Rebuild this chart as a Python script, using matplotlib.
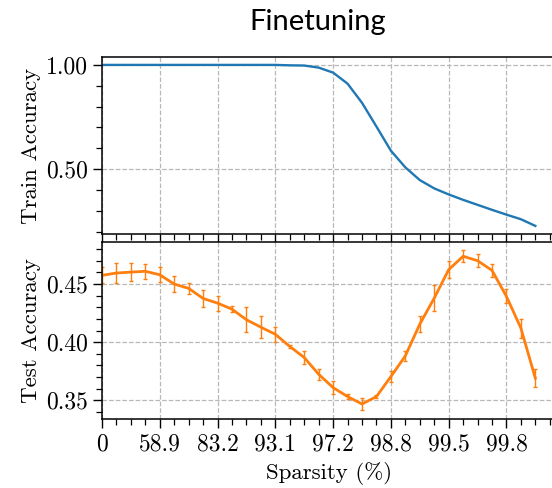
import numpy as np
import matplotlib.pyplot as plt
from matplotlib.ticker import MultipleLocator, FixedLocator, FixedFormatter, FormatStrFormatter

plt.rcParams['font.family'] = ['cmr10', 'DejaVu Serif']
plt.rcParams['axes.formatter.use_mathtext'] = True
plt.rcParams['mathtext.fontset'] = 'cm'

# pruning rounds (x index) and tick labels
sparsity_labels = ['0', '58.9', '83.2', '93.1', '97.2', '98.8', '99.5', '99.8']
rounds = np.arange(31)

train_acc = [1.0, 1.0, 1.0, 1.0, 1.0, 1.0, 1.0, 1.0, 1.0, 1.0, 1.0, 1.0, 1.0,
             0.998, 0.997, 0.987, 0.963, 0.91, 0.818, 0.704, 0.588, 0.508,
             0.447, 0.407, 0.378, 0.352, 0.328, 0.304, 0.281, 0.259, 0.227]

test_acc = [0.4575, 0.4595, 0.4603, 0.461, 0.458, 0.450, 0.4463, 0.4376,
            0.4336, 0.4284, 0.4193, 0.4129, 0.4068, 0.3963, 0.3868, 0.3724,
            0.3609, 0.3532, 0.3468, 0.3532, 0.3704, 0.3882, 0.4155, 0.4379,
            0.4624, 0.4739, 0.4701, 0.4618, 0.4394, 0.4121, 0.369]
test_err = [0.007, 0.0083, 0.0078, 0.0065, 0.0063, 0.007, 0.005, 0.0073,
            0.0065, 0.0026, 0.0106, 0.0095, 0.0066, 0.0015, 0.0057, 0.0046,
            0.0053, 0.0024, 0.0055, 0.001, 0.005, 0.004, 0.0068, 0.0115,
            0.0076, 0.005, 0.0057, 0.0057, 0.006, 0.0082, 0.0078]

fig = plt.figure(figsize=(5.52, 4.88), dpi=100)
left, width = 102 / 552, 455 / 552
ax1 = fig.add_axes([left, 1 - 234 / 488, width, 177 / 488])
ax2 = fig.add_axes([left, 1 - 419 / 488, width, 177 / 488])

ax1.plot(rounds, train_acc, color='#1f77b4', lw=1.7)
ax2.errorbar(rounds, test_acc, yerr=test_err, color='#ff7f0e', lw=2.0,
             ecolor='#ff7f0e', elinewidth=1.0, capsize=1.5, capthick=1.0)

for ax in (ax1, ax2):
    ax.set_xlim(0, 31.5)
    ax.xaxis.set_major_locator(FixedLocator(np.arange(0, 29, 4)))
    ax.xaxis.set_minor_locator(MultipleLocator(1))
    ax.grid(True, which='major', ls='--', color='#b8b8b8', lw=0.9)
    ax.tick_params(which='major', length=6.5, width=1.0, labelsize=17)
    ax.tick_params(which='minor', length=4, width=0.9)
    for s in ax.spines.values():
        s.set_linewidth(1.1)
    ax.spines['right'].set_visible(False)

ax1.set_ylim(0.188, 1.038)
ax1.yaxis.set_major_locator(FixedLocator([0.5, 1.0]))
ax1.yaxis.set_minor_locator(MultipleLocator(0.1))
ax1.yaxis.set_major_formatter(FormatStrFormatter('%.2f'))
ax1.tick_params(axis='x', labelbottom=False)
ax1.set_ylabel('Train Accuracy', fontsize=16.5)

ax2.set_ylim(0.3339, 0.4862)
ax2.yaxis.set_major_locator(FixedLocator([0.35, 0.40, 0.45]))
ax2.yaxis.set_minor_locator(MultipleLocator(0.01))
ax2.yaxis.set_major_formatter(FormatStrFormatter('%.2f'))
ax2.xaxis.set_major_formatter(FixedFormatter(sparsity_labels))
ax2.set_ylabel('Test Accuracy', fontsize=16.5)
ax2.set_xlabel('Sparsity (%)', fontsize=16.5, labelpad=5)

fig.align_ylabels([ax1, ax2])
fig.text(318 / 552, 1 - 22 / 488, 'Finetuning', family='Lato', fontsize=21,
         ha='center', va='center')

fig.savefig('out.png', dpi=100)
